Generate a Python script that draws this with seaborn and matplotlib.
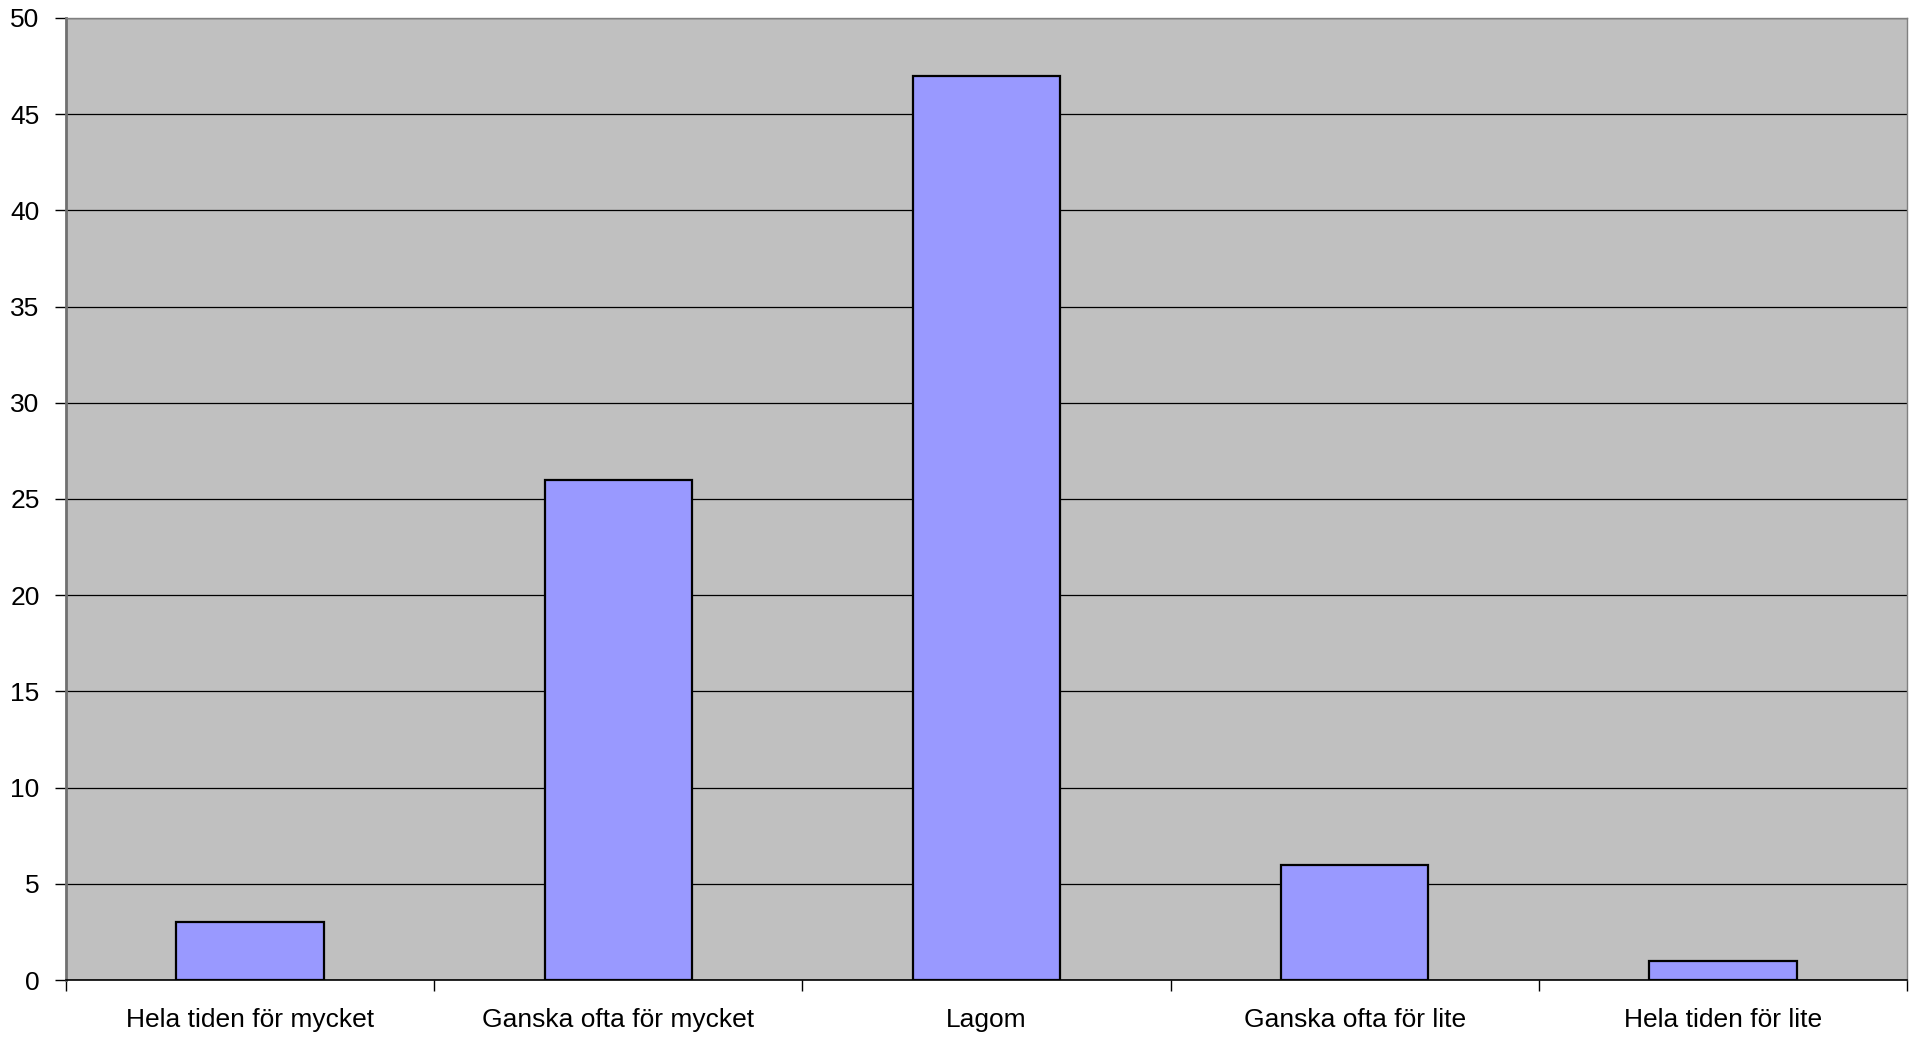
import matplotlib
matplotlib.use("Agg")
import matplotlib.pyplot as plt
import seaborn as sns
import pandas as pd
from matplotlib.ticker import FixedLocator

# Data
categories = [
    "Hela tiden för mycket",
    "Ganska ofta för mycket",
    "Lagom",
    "Ganska ofta för lite",
    "Hela tiden för lite",
]
values = [3, 26, 47, 6, 1]
y_ticks = [0, 5, 10, 15, 20, 25, 30, 35, 40, 45, 50]

df = pd.DataFrame({"kategori": categories, "antal": values})

sns.set_theme(style="white")
plt.rcParams["font.family"] = ["Liberation Sans", "DejaVu Sans"]

fig = plt.figure(figsize=(19.13, 10.40), dpi=100)
ax = fig.add_axes([66 / 1913, 1 - 980 / 1040, (1907 - 66) / 1913, (980 - 18) / 1040])
ax.set_facecolor("#C0C0C0")

sns.barplot(data=df, x="kategori", y="antal", ax=ax, width=0.4,
            color="#9999FF", saturation=1, edgecolor="black", linewidth=1.6,
            zorder=3)

ax.set_xlim(-0.5, len(categories) - 0.5)
ax.set_ylim(0, 50)
ax.set_yticks(y_ticks)
ax.yaxis.grid(True, color="black", linewidth=0.9, zorder=1)
ax.set_axisbelow(True)

# category boundaries as minor ticks, labels on major ticks without marks
ax.xaxis.set_minor_locator(FixedLocator([i - 0.5 for i in range(len(categories) + 1)]))
ax.tick_params(axis="x", which="major", length=0, pad=20, labelsize=19, colors="black")
ax.tick_params(axis="x", which="minor", bottom=True, length=8, width=1, color="black")
ax.tick_params(axis="y", left=True, length=8, width=1, color="black", pad=11,
               labelsize=19, labelcolor="black")

ax.set_xlabel("")
ax.set_ylabel("")

for side in ["top", "right"]:
    ax.spines[side].set_color("#808080")
    ax.spines[side].set_linewidth(1)
ax.spines["left"].set_color("#707070")
ax.spines["left"].set_linewidth(2)
ax.spines["bottom"].set_color("black")
ax.spines["bottom"].set_linewidth(1.2)
for sp in ax.spines.values():
    sp.set_visible(True)

fig.savefig("out.png", dpi=100, facecolor="white")
